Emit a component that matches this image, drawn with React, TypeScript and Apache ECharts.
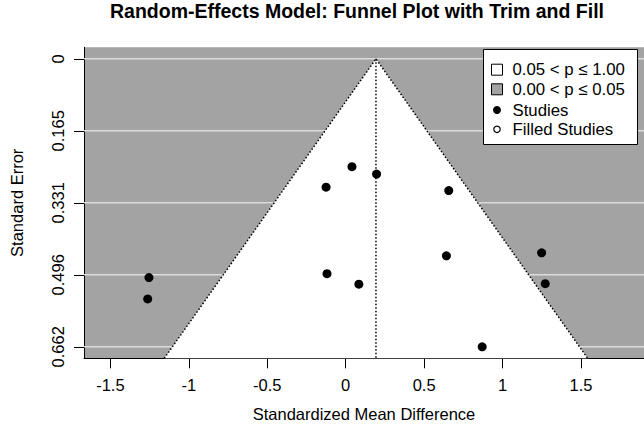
import React, { useEffect, useRef } from "react";
import * as echarts from "echarts";

const titleText = "Random-Effects Model: Funnel Plot with Trim and Fill";
const xAxisName = "Standardized Mean Difference";
const yAxisName = "Standard Error";

const xTicks = [-1.5, -1, -0.5, 0, 0.5, 1, 1.5];
const yTicks = [0, 0.1655, 0.331, 0.4965, 0.662];
const yTickLabels = ["0", "0.165", "0.331", "0.496", "0.662"];

const effectMin = -1.668;
const effectMax = 1.9015;
const seMin = -0.0265;
const seMax = 0.6885;

const estimate = 0.193;
const zCrit = 1.96;

const studyEffect = [0.04, 0.197, -0.125, 0.657, 0.642, 1.249, -0.119, 0.084, 1.272, 0.87, -1.254, -1.262];
const studySE = [0.248, 0.265, 0.295, 0.303, 0.453, 0.446, 0.494, 0.518, 0.517, 0.662, 0.503, 0.552];

const legendLabels = ["0.05 < p \u2264 1.00", "0.00 < p \u2264 0.05", "Studies", "Filled Studies"];

const FONT = "'Liberation Sans', Arial, Helvetica, sans-serif";
const GRAY = "#a3a3a3";
const FS = 16.5;

export default function App() {
  const ref = useRef<HTMLDivElement>(null);
  useEffect(() => {
    if (!ref.current) return;
    const chart = echarts.init(ref.current, null, { renderer: "svg" });
    const funnel = [
      [estimate - zCrit * seMax, seMax],
      [estimate, 0],
      [estimate + zCrit * seMax, seMax],
    ];
    const points = studyEffect.map((x, i) => [x, studySE[i]]);
    const legendX = 483.5;
    const legendY = 49.5;
    const rowYs = [69.7, 89.3, 110, 129.3];
    const gridSeries = yTicks.map((v) => ({
      type: "line",
      z: 1,
      silent: true,
      symbol: "none",
      data: [
        [effectMin, v],
        [effectMax, v],
      ],
      lineStyle: { color: "#dcdcdc", width: 1.5, type: "solid" },
    }));
    const option: any = {
      animation: false,
      backgroundColor: "#fff",
      grid: {
        left: 75,
        top: 47.3,
        right: 0,
        height: 311,
        show: true,
        backgroundColor: GRAY,
        borderWidth: 0,
      },
      xAxis: {
        type: "value",
        min: effectMin,
        max: effectMax,
        axisLine: { onZero: false, lineStyle: { color: "#000", width: 1 } },
        axisTick: { customValues: xTicks, length: 10, lineStyle: { color: "#000", width: 1 } },
        axisLabel: {
          customValues: xTicks,
          margin: 18,
          color: "#000",
          fontSize: FS,
          fontFamily: FONT,
          formatter: (v: number) => String(v),
        },
        splitLine: { show: false },
        name: xAxisName,
        nameLocation: "middle",
        nameGap: 47,
        nameTextStyle: { color: "#000", fontSize: FS, fontFamily: FONT },
      },
      yAxis: {
        type: "value",
        inverse: true,
        min: seMin,
        max: seMax,
        axisLine: { onZero: false, lineStyle: { color: "#000", width: 1 } },
        axisTick: { customValues: yTicks, length: 10, lineStyle: { color: "#000", width: 1 } },
        axisLabel: {
          customValues: yTicks,
          rotate: 90,
          margin: 18,
          color: "#000",
          fontSize: FS,
          fontFamily: FONT,
          formatter: (v: number) => {
            let best = 0;
            yTicks.forEach((t, i) => {
              if (Math.abs(t - v) < Math.abs(yTicks[best] - v)) best = i;
            });
            return yTickLabels[best];
          },
        },
        splitLine: { show: false },
        name: yAxisName,
        nameLocation: "middle",
        nameRotate: 90,
        nameGap: 59,
        nameTextStyle: { color: "#000", fontSize: FS, fontFamily: FONT },
      },
      series: [
        ...gridSeries,
        {
          type: "custom",
          z: 2,
          silent: true,
          data: [0],
          renderItem: (params: any, api: any) => {
            const pts = funnel.map((p) => api.coord(p));
            return { type: "polygon", shape: { points: pts }, style: { fill: "#fff" } };
          },
        },
        {
          type: "line",
          z: 3,
          silent: true,
          symbol: "none",
          data: funnel,
          lineStyle: { color: "#000", width: 1.5, type: [1.5, 2] },
        },
        {
          type: "line",
          z: 3,
          silent: true,
          symbol: "none",
          data: [
            [estimate, 0],
            [estimate, seMax],
          ],
          lineStyle: { color: "#000", width: 1.5, type: [1.5, 2] },
        },
        {
          type: "scatter",
          z: 4,
          symbol: "circle",
          symbolSize: 9,
          itemStyle: { color: "#000", opacity: 1 },
          data: points,
        },
      ],
      graphic: [
        {
          type: "text",
          x: 357,
          y: 10.5,
          style: {
            text: titleText,
            fill: "#000",
            font: `bold 19.5px ${FONT}`,
            textAlign: "center",
            textVerticalAlign: "middle",
          },
        },
        {
          type: "rect",
          shape: { x: legendX, y: legendY, width: 154, height: 95 },
          style: { fill: "#fff", stroke: "#000", lineWidth: 1 },
          z: 10,
        },
        {
          type: "rect",
          shape: { x: 491.5, y: rowYs[0] - 5.5, width: 11, height: 11 },
          style: { fill: "#fff", stroke: "#000", lineWidth: 1 },
          z: 11,
        },
        {
          type: "rect",
          shape: { x: 491.5, y: rowYs[1] - 5.5, width: 11, height: 11 },
          style: { fill: GRAY, stroke: "#000", lineWidth: 1 },
          z: 11,
        },
        {
          type: "circle",
          shape: { cx: 497, cy: rowYs[2], r: 4 },
          style: { fill: "#000" },
          z: 11,
        },
        {
          type: "circle",
          shape: { cx: 497, cy: rowYs[3], r: 3.2 },
          style: { fill: "#fff", stroke: "#000", lineWidth: 1.2 },
          z: 11,
        },
        ...legendLabels.map((t, i) => ({
          type: "text",
          x: 512.5,
          y: rowYs[i],
          z: 11,
          style: {
            text: t,
            fill: "#000",
            font: `16.8px ${FONT}`,
            textAlign: "left",
            textVerticalAlign: "middle",
          },
        })),
      ],
    };
    chart.setOption(option);
    return () => chart.dispose();
  }, []);
  return (
    <div
      ref={ref}
      style={{ position: "absolute", left: 0, top: 0, width: 644, height: 434, background: "#fff" }}
    />
  );
}
